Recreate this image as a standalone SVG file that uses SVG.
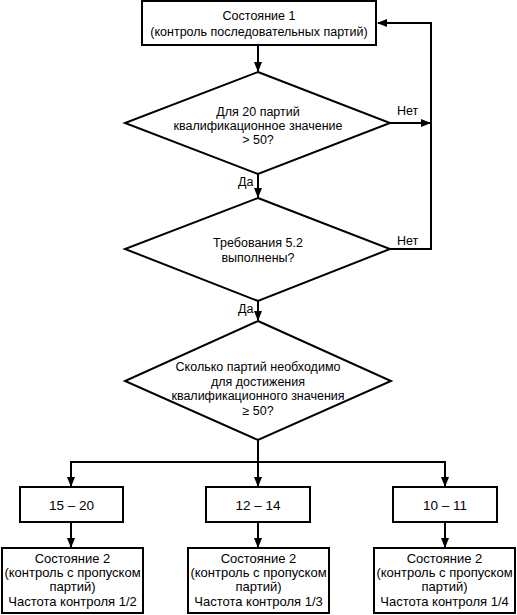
<svg xmlns="http://www.w3.org/2000/svg" width="517" height="615" viewBox="0 0 517 615">
<style>
.s{fill:#fff;stroke:#000;stroke-width:2}
.c{fill:none;stroke:#000;stroke-width:2}
text{font-family:"Liberation Sans",Arial,sans-serif;font-size:12.5px;fill:#000}
.m{text-anchor:middle}
.b{font-size:13px}
.r{font-size:13.5px}
</style>
<defs>
<marker id="a" markerWidth="10" markerHeight="8" refX="9" refY="4" orient="auto" markerUnits="userSpaceOnUse">
<path d="M0,0 L10,4 L0,8 Z" fill="#000"/>
</marker>
</defs>
<rect width="517" height="615" fill="#fff"/>
<g id="connectors">
<line class="c" x1="258" y1="45" x2="258" y2="71" marker-end="url(#a)"/>
<line class="c" x1="258" y1="174" x2="258" y2="197" marker-end="url(#a)"/>
<line class="c" x1="258" y1="301" x2="258" y2="320" marker-end="url(#a)"/>
<line class="c" x1="390" y1="123" x2="430" y2="123" marker-end="url(#a)"/>
<polyline class="c" points="390,249 431,249 431,23 378,23" marker-end="url(#a)"/>
<line class="c" x1="258" y1="440" x2="258" y2="462"/>
<line class="c" x1="71" y1="462" x2="445" y2="462"/>
<line class="c" x1="71" y1="461" x2="71" y2="486" marker-end="url(#a)"/>
<line class="c" x1="258" y1="462" x2="258" y2="486" marker-end="url(#a)"/>
<line class="c" x1="445" y1="461" x2="445" y2="486" marker-end="url(#a)"/>
<line class="c" x1="71" y1="522" x2="71" y2="547" marker-end="url(#a)"/>
<line class="c" x1="258" y1="522" x2="258" y2="547" marker-end="url(#a)"/>
<line class="c" x1="445" y1="522" x2="445" y2="547" marker-end="url(#a)"/>
<text x="397" y="115">Нет</text>
<text x="397" y="245">Нет</text>
<text x="238" y="186">Да</text>
<text x="238" y="313">Да</text>
</g>
<g id="state1">
<rect class="s" x="142" y="1" width="234" height="44"/>
<text class="m" x="259" y="20">Состояние 1</text>
<text class="m" x="259" y="36">(контроль последовательных партий)</text>
</g>
<g id="decision1">
<polygon class="s" points="258,72 390,123 258,174 125,123"/>
<text class="m" x="258" y="116">Для 20 партий</text>
<text class="m" x="258" y="130">квалификационное значение</text>
<text class="m" x="258" y="144">&gt; 50?</text>
</g>
<g id="decision2">
<polygon class="s" points="258,198 390,249 258,301 125,249"/>
<text class="m" x="258" y="247">Требования 5.2</text>
<text class="m" x="258" y="262">выполнены?</text>
</g>
<g id="decision3">
<polygon class="s" points="258,321 391,381 258,440 125,381"/>
<text class="m" x="258" y="371">Сколько партий необходимо</text>
<text class="m" x="258" y="386">для достижения</text>
<text class="m" x="258" y="400">квалификационного значения</text>
<text class="m" x="258" y="415">≥ 50?</text>
</g>
<g id="range1">
<rect class="s" x="20" y="487" width="103" height="35"/>
<text class="m r" x="71.5" y="510">15 – 20</text>
</g>
<g id="range2">
<rect class="s" x="206" y="487" width="104" height="35"/>
<text class="m r" x="258" y="510">12 – 14</text>
</g>
<g id="range3">
<rect class="s" x="393" y="487" width="104" height="35"/>
<text class="m r" x="445" y="510">10 – 11</text>
</g>
<g id="state2a">
<rect class="s" x="2" y="548" width="141" height="65"/>
<text class="m b" x="72.5" y="563">Состояние 2</text>
<text class="m b" x="72.5" y="577">(контроль с пропуском</text>
<text class="m b" x="72.5" y="591">партий)</text>
<text class="m b" x="72.5" y="606">Частота контроля 1/2</text>
</g>
<g id="state2b">
<rect class="s" x="188" y="548" width="141" height="65"/>
<text class="m b" x="258.5" y="563">Состояние 2</text>
<text class="m b" x="258.5" y="577">(контроль с пропуском</text>
<text class="m b" x="258.5" y="591">партий)</text>
<text class="m b" x="258.5" y="606">Частота контроля 1/3</text>
</g>
<g id="state2c">
<rect class="s" x="374" y="548" width="141" height="65"/>
<text class="m b" x="444.5" y="563">Состояние 2</text>
<text class="m b" x="444.5" y="577">(контроль с пропуском</text>
<text class="m b" x="444.5" y="591">партий)</text>
<text class="m b" x="444.5" y="606">Частота контроля 1/4</text>
</g>
</svg>
